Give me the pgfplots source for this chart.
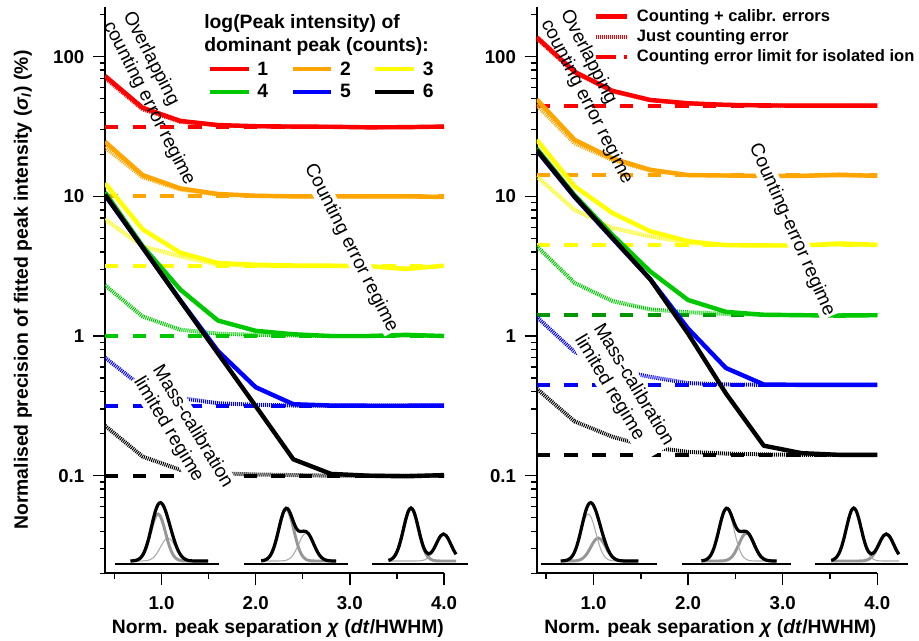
\documentclass[border=0pt]{standalone}
\usepackage{fontspec}
\setmainfont{Liberation Sans}
\usepackage{pgfplots}
\usepackage{pgfplotstable}
\pgfplotsset{compat=1.18}

\definecolor{cred}{RGB}{255,0,0}
\definecolor{corange}{RGB}{255,165,0}
\definecolor{cyellow}{RGB}{255,255,0}
\definecolor{cgreen}{RGB}{0,200,0}
\definecolor{cdkgreen}{RGB}{0,150,0}
\definecolor{cblue}{RGB}{0,0,255}
\definecolor{gthick}{RGB}{150,150,150}
\definecolor{gthin}{RGB}{170,170,170}

\tikzset{
  sol/.style={line width=3.3pt, line join=round},
  hatch/.style={line width=3pt, dash pattern=on 0.75pt off 0.75pt},
  limit/.style={line width=3pt, dash pattern=on 10pt off 10.8pt},
  note/.style={inner sep=1pt, align=left,
    font=\fontsize{14.3}{16.5}\selectfont},
  masked/.style={note, fill=white},
}

% precision (%) vs normalised separation, left: one peak, right: pair
\pgfplotstableread{
x    rs    rd    os    od    ys    yd    gs    gd    bs    bd    ks    kd
0.4  72.8  70.5  24.6  22.4  12.4  6.85  10.7  2.31  10.2  0.70  10.3  0.228
0.8  43.1  42.0  14.2  13.7  5.8   4.38  4.4   1.38  4.3   0.43  4.3   0.137
1.2  34.7  34.2  11.4  11.2  3.95  3.72  2.15  1.11  1.8   0.36  1.79  0.110
1.6  32.4  32.2  10.4  10.3  3.33  3.24  1.29  1.04  0.78  0.33  0.75  0.104
2.0  31.8  31.7  10.1  10.1  3.24  3.18  1.09  1.02  0.43  0.322 0.315 0.102
2.4  31.6  31.6  10.0  10.0  3.20  3.16  1.03  1.01  0.325 0.318 0.131 0.101
2.8  31.5  31.5  10.0  10.0  3.19  3.16  1.00  1.00  0.318 0.317 0.103 0.100
3.2  31.2  31.2  10.0  10.0  3.16  3.16  1.00  1.00  0.317 0.317 0.100 0.100
3.6  31.3  31.3  10.0  10.0  3.02  3.05  1.02  1.01  0.317 0.317 0.099 0.100
4.0  31.6  31.6  9.9   9.9   3.19  3.17  1.00  1.00  0.318 0.318 0.101 0.100
}\leftdata

\pgfplotstableread{
x    rs    rd    os    od    ys    yd    gs    gd    bs    bd    ks    kd
0.4  138   135   49.5  45    25.4  13.9  22    4.4   21.3  1.37  21.5  0.42
0.8  78    77    25.4  24.0  11.8  8.0   10.2  2.4   9.9   0.77  10.0  0.245
1.2  57    56.5  18.7  18.2  7.6   5.94  5.3   1.78  5.0   0.58  5.05  0.19
1.6  49    48.8  15.5  15.3  5.62  5.17  2.9   1.55  2.55  0.51  2.55  0.16
2.0  46.4  46.3  14.2  14.2  4.77  4.63  1.81  1.48  1.13  0.46  1.04  0.148
2.4  45.2  45.2  14.1  14.1  4.47  4.5   1.49  1.44  0.59  0.45  0.388 0.144
2.8  44.8  44.8  14.0  14.1  4.45  4.47  1.42  1.42  0.45  0.447 0.164 0.142
3.2  44.6  44.6  14.0  14.1  4.45  4.47  1.41  1.41  0.447 0.447 0.145 0.141
3.6  44.6  44.6  14.3  14.1  4.6   4.5   1.40  1.41  0.447 0.447 0.141 0.141
4.0  44.7  44.7  14.0  14.1  4.5   4.47  1.41  1.41  0.447 0.447 0.141 0.141
}\rightdata

% peak-shape sketches (px): s = sum, a = dominant peak, b = second peak
\pgfplotstableread{
x     s      a      b
-27.5 0.06   0.06   0
-25   0.18   0.18   0
-22.5 0.52   0.52   0
-20   1.34   1.34   0
-17.5 3.12   3.09   0.03
-15   6.45   6.36   0.09
-12.5 11.98  11.72  0.26
-10   19.98  19.32  0.66
-7.5  30.02  28.51  1.51
-5    40.74  37.63  3.11
-2.5  50.20  44.46  5.74
0     56.46  47.00  9.46
2.5   58.41  44.46  13.95
5     56.05  37.63  18.42
7.5   50.27  28.51  21.76
10    42.32  19.32  23.00
12.5  33.48  11.72  21.76
15    24.78  6.36   18.42
17.5  17.04  3.09   13.95
20    10.80  1.34   9.46
22.5  6.26   0.52   5.74
25    3.29   0.18   3.11
27.5  1.57   0.06   1.51
30    0.66   0      0.66
32.5  0.26   0      0.26
35    0.09   0      0.09
37.5  0.03   0      0.03
40    0      0      0
50    0      0      0
}\peakA

\pgfplotstableread{
x     s      a      b
-25   0.20   0.20   0
-22.5 0.58   0.58   0
-20   1.49   1.49   0
-17.5 3.42   3.42   0
-15   7.04   7.04   0
-12.5 12.97  12.97  0
-10   21.38  21.38  0
-7.5  31.57  31.54  0.03
-5    41.75  41.64  0.11
-2.5  49.50  49.19  0.31
0     52.80  52.00  0.80
2.5   51.03  49.19  1.84
5     45.43  41.64  3.79
7.5   38.52  31.54  6.98
10    32.89  21.38  11.51
12.5  29.95  12.97  16.98
15    29.46  7.04   22.42
17.5  29.91  3.42   26.49
20    29.49  1.49   28.00
22.5  27.07  0.58   26.49
25    22.62  0.20   22.42
27.5  17.04  0.06   16.98
30    11.53  0.02   11.51
32.5  6.98   0      6.98
35    3.79   0      3.79
37.5  1.84   0      1.84
40    0.80   0      0.80
42.5  0.31   0      0.31
45    0.11   0      0.11
47.5  0.03   0      0.03
50    0      0      0
}\peakB

\pgfplotstableread{
x     s      a      b
-22.5 0.59   0.59   0
-20   1.52   1.52   0
-17.5 3.48   3.48   0
-15   7.17   7.17   0
-12.5 13.22  13.22  0
-10   21.79  21.79  0
-7.5  32.14  32.14  0
-5    42.44  42.44  0
-2.5  50.14  50.14  0
0     53.00  53.00  0
2.5   50.14  50.14  0
5     42.47  42.44  0.03
7.5   32.25  32.14  0.11
10    22.09  21.79  0.30
12.5  13.99  13.22  0.77
15    8.94   7.17   1.77
17.5  7.13   3.48   3.65
20    8.25   1.52   6.73
22.5  11.69  0.59   11.10
25    16.59  0.21   16.38
27.5  21.68  0.06   21.62
30    25.56  0.02   25.54
32.5  27.00  0      27.00
35    25.54  0      25.54
37.5  21.62  0      21.62
40    16.38  0      16.38
42.5  11.10  0      11.10
45    6.73   0      6.73
}\peakC

\begin{document}
\begin{tikzpicture}

% ---------------- left panel ----------------
\begin{axis}[
  at={(78.75pt,-429.98pt)}, anchor=south west,
  scale only axis, width=254.25pt, height=424.95pt,
  ymode=log, xmin=0.4, xmax=4, ymin=0.02, ymax=228,
  axis x line*=bottom, axis y line*=left,
  axis line style={line width=1.5pt},
  tick align=outside,
  major tick length=9pt, minor tick length=4pt,
  tick style={black, line width=1.1pt},
  xtick={1,2,3,4}, xticklabels={1.0,2.0,3.0,4.0},
  minor xtick={0.5,1.5,2.5,3.5},
  ytick={0.1,1,10,100}, yticklabels={0.1,1,10,100},
  minor ytick={0.02,0.03,0.04,0.05,0.06,0.07,0.08,0.09,0.2,0.3,0.4,0.5,0.6,0.7,0.8,0.9,2,3,4,5,6,7,8,9,20,30,40,50,60,70,80,90,200},
  tick label style={font=\fontsize{14}{16}\selectfont\bfseries},
  xticklabel style={yshift=-5pt},
  yticklabel style={xshift=-3pt},
  label style={font=\fontsize{14.5}{17}\selectfont\bfseries},
  xlabel={Norm. peak separation \textit{χ} (\textit{dt}/HWHM)},
  xlabel style={at={(axis description cs:0.51,-0.098)}, anchor=center},
  ylabel={Normalised precision of fitted peak intensity (\textit{σ}\textsubscript{\textit{I}}) (\%)},
  ylabel style={at={(axis description cs:-0.242,0.5)}, anchor=center},
  legend columns=3,
  legend image code/.code={\draw[#1] (0pt,0pt) -- (29pt,0pt); \path (32pt,0pt);},
  legend style={draw=none, fill=none, inner sep=0pt,
    at={(axis description cs:0.302,0.910)}, anchor=north west,
    font=\fontsize{14.5}{17}\selectfont\bfseries,
    nodes={inner sep=2pt, text height=11pt, text depth=2pt},
    /tikz/every even column/.append style={column sep=14.7pt}},
]
\addlegendimage{cred,sol}\addlegendentry{1}
\addlegendimage{corange,sol}\addlegendentry{2}
\addlegendimage{cyellow,sol}\addlegendentry{3}
\addlegendimage{cgreen,sol}\addlegendentry{4}
\addlegendimage{cblue,sol}\addlegendentry{5}
\addlegendimage{black,sol}\addlegendentry{6}

% counting error limit for an isolated ion
\addplot[cred,limit,forget plot] coordinates {(0.4,31.62) (4,31.62)};
\addplot[corange,limit,forget plot] coordinates {(0.4,10) (4,10)};
\addplot[cyellow,limit,forget plot] coordinates {(0.4,3.162) (4,3.162)};
\addplot[cgreen,limit,forget plot] coordinates {(0.4,1) (4,1)};
\addplot[cblue,limit,forget plot] coordinates {(0.4,0.3162) (4,0.3162)};
\addplot[black,limit,forget plot] coordinates {(0.4,0.1) (4,0.1)};
% just counting error
\addplot[cred,hatch,forget plot] table[x=x,y=rd] {\leftdata};
\addplot[corange,hatch,forget plot] table[x=x,y=od] {\leftdata};
\addplot[cyellow,hatch,forget plot] table[x=x,y=yd] {\leftdata};
\addplot[cgreen,hatch,forget plot] table[x=x,y=gd] {\leftdata};
\addplot[cblue,hatch,forget plot] table[x=x,y=bd] {\leftdata};
\addplot[black,hatch,forget plot] table[x=x,y=kd] {\leftdata};
% counting + calibration errors
\addplot[cred,sol,forget plot] table[x=x,y=rs] {\leftdata};
\addplot[corange,sol,forget plot] table[x=x,y=os] {\leftdata};
\addplot[cyellow,sol,forget plot] table[x=x,y=ys] {\leftdata};
\addplot[cgreen,sol,forget plot] table[x=x,y=gs] {\leftdata};
\addplot[cblue,sol,forget plot] table[x=x,y=bs] {\leftdata};
\addplot[black,sol,forget plot] table[x=x,y=ks] {\leftdata};
\end{axis}

\begin{axis}[at={(78.75pt,-429.98pt)}, anchor=south west,
  scale only axis, width=254.25pt, height=424.95pt,
  hide axis, clip=false, xmin=0, xmax=339, ymin=0, ymax=566.6]
\node[note, rotate=-63] at (axis cs:53.8,474.8) {Overlapping\\counting error regime};
\node[masked, rotate=-63] at (axis cs:246,325.3) {Counting error regime};
\node[masked, rotate=-59] at (axis cs:78,140.9) {Mass-calibration\\limited regime};
\node[anchor=north west, align=left, inner sep=0pt,
  font=\fontsize{14.5}{17}\selectfont\bfseries] at (axis cs:99,558.8)
  {log(Peak intensity) of\\dominant peak (counts):};

\addplot[gthin,line width=0.8pt,smooth] table[x expr=\thisrow{x}+53,y expr=\thisrow{b}+12.3] {\peakA};
\addplot[gthick,line width=2.2pt,smooth] table[x expr=\thisrow{x}+53,y expr=\thisrow{a}+12.3] {\peakA};
\addplot[black,line width=2.4pt,smooth] table[x expr=\thisrow{x}+53,y expr=\thisrow{s}+12.3] {\peakA};
\addplot[black,line width=1pt] coordinates {(10,9.3) (114.3,9.3)};

\addplot[gthin,line width=0.8pt,smooth] table[x expr=\thisrow{x}+181.2,y expr=\thisrow{b}+12.3] {\peakB};
\addplot[gthick,line width=2.2pt,smooth] table[x expr=\thisrow{x}+181.2,y expr=\thisrow{a}+12.3] {\peakB};
\addplot[black,line width=2.4pt,smooth] table[x expr=\thisrow{x}+181.2,y expr=\thisrow{s}+12.3] {\peakB};
\addplot[black,line width=1pt] coordinates {(139,9.3) (243.3,9.3)};

\addplot[gthin,line width=0.8pt,smooth] table[x expr=\thisrow{x}+306,y expr=\thisrow{b}+12.3] {\peakC};
\addplot[gthick,line width=2.2pt,smooth] table[x expr=\thisrow{x}+306,y expr=\thisrow{a}+12.3] {\peakC};
\addplot[black,line width=2.4pt,smooth] table[x expr=\thisrow{x}+306,y expr=\thisrow{s}+12.3] {\peakC};
\addplot[black,line width=1pt] coordinates {(266.7,9.3) (363,9.3)};
\end{axis}

% ---------------- right panel ----------------
\begin{axis}[
  at={(402.53pt,-429.98pt)}, anchor=south west,
  scale only axis, width=255.45pt, height=424.95pt,
  ymode=log, xmin=0.4, xmax=4, ymin=0.02, ymax=228,
  axis x line*=bottom, axis y line*=left,
  axis line style={line width=1.5pt},
  tick align=outside,
  major tick length=9pt, minor tick length=4pt,
  tick style={black, line width=1.1pt},
  xtick={1,2,3,4}, xticklabels={1.0,2.0,3.0,4.0},
  minor xtick={0.5,1.5,2.5,3.5},
  ytick={0.1,1,10,100}, yticklabels={0.1,1,10,100},
  minor ytick={0.02,0.03,0.04,0.05,0.06,0.07,0.08,0.09,0.2,0.3,0.4,0.5,0.6,0.7,0.8,0.9,2,3,4,5,6,7,8,9,20,30,40,50,60,70,80,90,200},
  tick label style={font=\fontsize{14}{16}\selectfont\bfseries},
  xticklabel style={yshift=-5pt},
  yticklabel style={xshift=-3pt},
  label style={font=\fontsize{14.5}{17}\selectfont\bfseries},
  xlabel={Norm. peak separation \textit{χ} (\textit{dt}/HWHM)},
  xlabel style={at={(axis description cs:0.51,-0.098)}, anchor=center},
  legend image code/.code={\draw[#1] (0pt,0pt) -- (23.8pt,0pt); \path (28.3pt,0pt);},
  legend style={draw=none, fill=none, inner sep=0pt,
    at={(axis description cs:0.166,1.001)}, anchor=north west,
    font=\fontsize{12.4}{14}\selectfont\bfseries,
    nodes={inner sep=1pt, text height=10.2pt, text depth=3pt},
    cells={anchor=west}},
]
\addlegendimage{cred,sol}\addlegendentry{Counting + calibr. errors}
\addlegendimage{cred,hatch}\addlegendentry{Just counting error}
\addlegendimage{cred,line width=3pt,dash pattern=on 15pt off 6pt}\addlegendentry{Counting error limit for isolated ion}

\addplot[cred,limit,forget plot] coordinates {(0.4,44.72) (4,44.72)};
\addplot[corange,limit,forget plot] coordinates {(0.4,14.14) (4,14.14)};
\addplot[cyellow,limit,forget plot] coordinates {(0.4,4.472) (4,4.472)};
\addplot[cdkgreen,limit,forget plot] coordinates {(0.4,1.414) (4,1.414)};
\addplot[cblue,limit,forget plot] coordinates {(0.4,0.4472) (4,0.4472)};
\addplot[black,limit,forget plot] coordinates {(0.4,0.1414) (4,0.1414)};

\addplot[cred,hatch,forget plot] table[x=x,y=rd] {\rightdata};
\addplot[corange,hatch,forget plot] table[x=x,y=od] {\rightdata};
\addplot[cyellow,hatch,forget plot] table[x=x,y=yd] {\rightdata};
\addplot[cgreen,hatch,forget plot] table[x=x,y=gd] {\rightdata};
\addplot[cblue,hatch,forget plot] table[x=x,y=bd] {\rightdata};
\addplot[black,hatch,forget plot] table[x=x,y=kd] {\rightdata};

\addplot[cred,sol,forget plot] table[x=x,y=rs] {\rightdata};
\addplot[corange,sol,forget plot] table[x=x,y=os] {\rightdata};
\addplot[cyellow,sol,forget plot] table[x=x,y=ys] {\rightdata};
\addplot[cgreen,sol,forget plot] table[x=x,y=gs] {\rightdata};
\addplot[cblue,sol,forget plot] table[x=x,y=bs] {\rightdata};
\addplot[black,sol,forget plot] table[x=x,y=ks] {\rightdata};
\end{axis}

\begin{axis}[at={(402.53pt,-429.98pt)}, anchor=south west,
  scale only axis, width=255.45pt, height=424.95pt,
  hide axis, clip=false, xmin=0, xmax=340.6, ymin=0, ymax=566.6]
\node[note, rotate=-63] at (axis cs:59.6,476.5) {Overlapping\\counting error regime};
\node[masked, rotate=-66] at (axis cs:254.8,343.3) {Counting-error regime};
\node[masked, rotate=-59] at (axis cs:87.1,182.6) {Mass-calibration\\limited regime};

\addplot[gthick,line width=2.2pt,smooth] table[x expr=\thisrow{x}+51.5,y expr=\thisrow{b}+12.3] {\peakA};
\addplot[gthin,line width=0.8pt,smooth] table[x expr=\thisrow{x}+51.5,y expr=\thisrow{a}+12.3] {\peakA};
\addplot[black,line width=2.4pt,smooth] table[x expr=\thisrow{x}+51.5,y expr=\thisrow{s}+12.3] {\peakA};
\addplot[black,line width=1pt] coordinates {(4.3,9.3) (120.6,9.3)};

\addplot[gthick,line width=2.2pt,smooth] table[x expr=\thisrow{x}+189.5,y expr=\thisrow{b}+12.3] {\peakB};
\addplot[gthin,line width=0.8pt,smooth] table[x expr=\thisrow{x}+189.5,y expr=\thisrow{a}+12.3] {\peakB};
\addplot[black,line width=2.4pt,smooth] table[x expr=\thisrow{x}+189.5,y expr=\thisrow{s}+12.3] {\peakB};
\addplot[black,line width=1pt] coordinates {(145,9.3) (254.3,9.3)};

\addplot[gthick,line width=2.2pt,smooth] table[x expr=\thisrow{x}+316.6,y expr=\thisrow{b}+12.3] {\peakC};
\addplot[gthin,line width=0.8pt,smooth] table[x expr=\thisrow{x}+316.6,y expr=\thisrow{a}+12.3] {\peakC};
\addplot[black,line width=2.4pt,smooth] table[x expr=\thisrow{x}+316.6,y expr=\thisrow{s}+12.3] {\peakC};
\addplot[black,line width=1pt] coordinates {(278.3,9.3) (371,9.3)};
\end{axis}

\pgfresetboundingbox
\path[use as bounding box] (0pt,0pt) rectangle (689.25pt,-480.75pt);
\end{tikzpicture}
\end{document}
